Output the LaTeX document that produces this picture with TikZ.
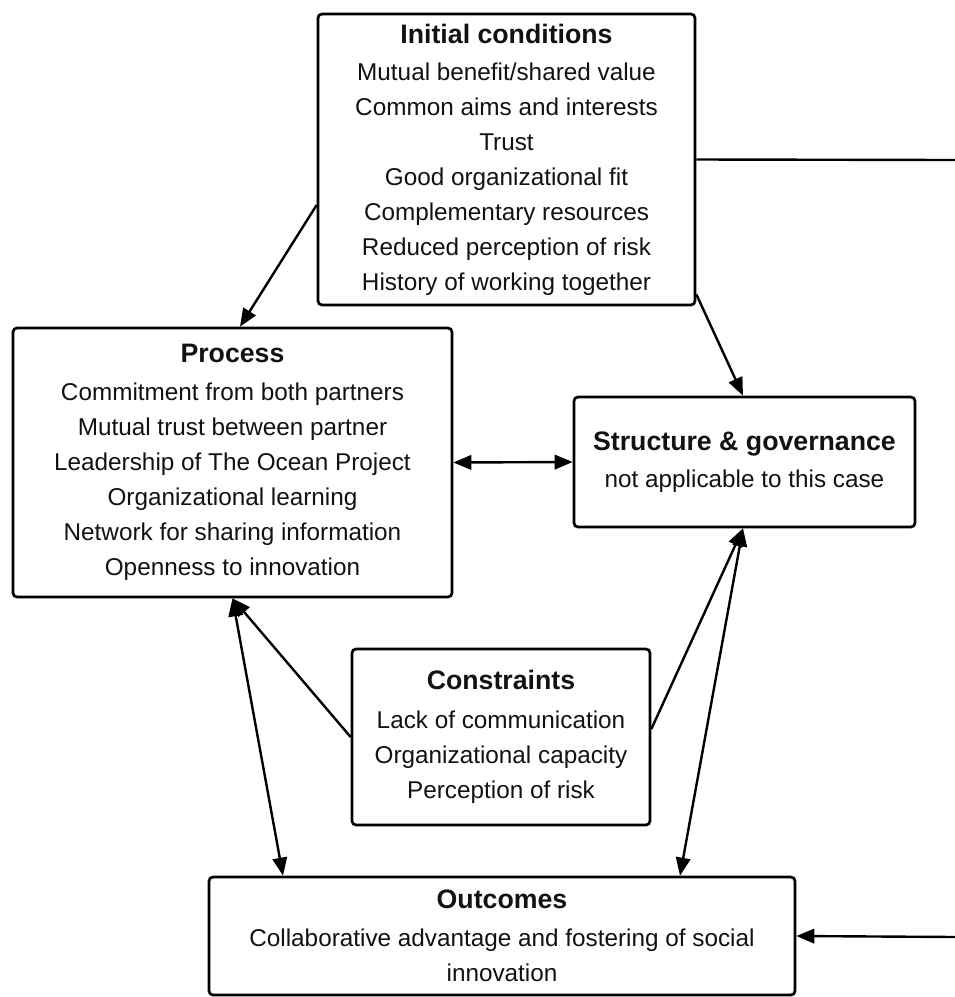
\documentclass[tikz,border=0pt]{standalone}
\usepackage{fontspec}
\setmainfont{Liberation Sans}
\usetikzlibrary{arrows.meta}
\begin{document}
\begin{tikzpicture}[x=1pt,y=-1pt,
  box/.style={draw=black,line width=2.7pt,rounded corners=4pt,fill=white,
    align=center,inner sep=0pt,font=\fontsize{24.3}{35}\selectfont,text=black!93},
  conn/.style={line width=2.4pt,draw=black},
  tip/.style={-{Triangle[length=18pt,width=14.5pt]}},
  tips/.style={{Triangle[length=18pt,width=14.5pt]}-{Triangle[length=18pt,width=14.5pt]}}]
\useasboundingbox (0,0) rectangle (955,997);
\newcommand{\hd}[1]{{\fontsize{26.7}{35}\selectfont\bfseries #1}}
\node[box,minimum width=377pt,minimum height=291pt] (init) at (506.5,159.5)
  {\hd{Initial conditions}\\[2pt]Mutual benefit/shared value\\Common aims and interests\\Trust\\Good organizational fit\\Complementary resources\\Reduced perception of risk\\History of working together};
\node[box,minimum width=439pt,minimum height=269pt] (proc) at (232.5,462.5)
  {\hd{Process}\\[3pt]Commitment from both partners\\Mutual trust between partner\\Leadership of The Ocean Project\\Organizational learning\\Network for sharing information\\Openness to innovation};
\node[box,minimum width=341pt,minimum height=130pt] (struct) at (744.5,462)
  {\hd{Structure \& governance}\\[2pt]not applicable to this case};
\node[box,minimum width=298pt,minimum height=176pt] (cons) at (501,737)
  {\hd{Constraints}\\[4pt]Lack of communication\\Organizational capacity\\Perception of risk};
\node[box,minimum width=586pt,minimum height=118pt] (out) at (502,936)
  {\hd{Outcomes}\\[3pt]Collaborative advantage and fostering of social\\innovation};
\coordinate (r1) at (955,160);
\coordinate (r2) at (955,937);
\draw[conn,tip] ([yshift=-45.5pt]init.west) -- ([xshift=7.5pt]proc.north);
\draw[conn,tip] ([yshift=12pt]init.south east) -- ([xshift=-1.5pt]struct.north);
\draw[conn,tips] (proc.east) -- (struct.west);
\draw[conn,tip] (cons.west) -- (proc.south);
\draw[conn,tips] (proc.south) -- ([xshift=-219pt]out.north);
\draw[conn,tip] ([yshift=8pt]cons.east) -- ([xshift=-1.5pt]struct.south);
\draw[conn,tips] ([xshift=-1.5pt]struct.south) -- ([xshift=178pt]out.north);
\draw[conn] (init.east) -- (r1);
\draw[conn,tip] (r2) -- (out.east);
\end{tikzpicture}
\end{document}
